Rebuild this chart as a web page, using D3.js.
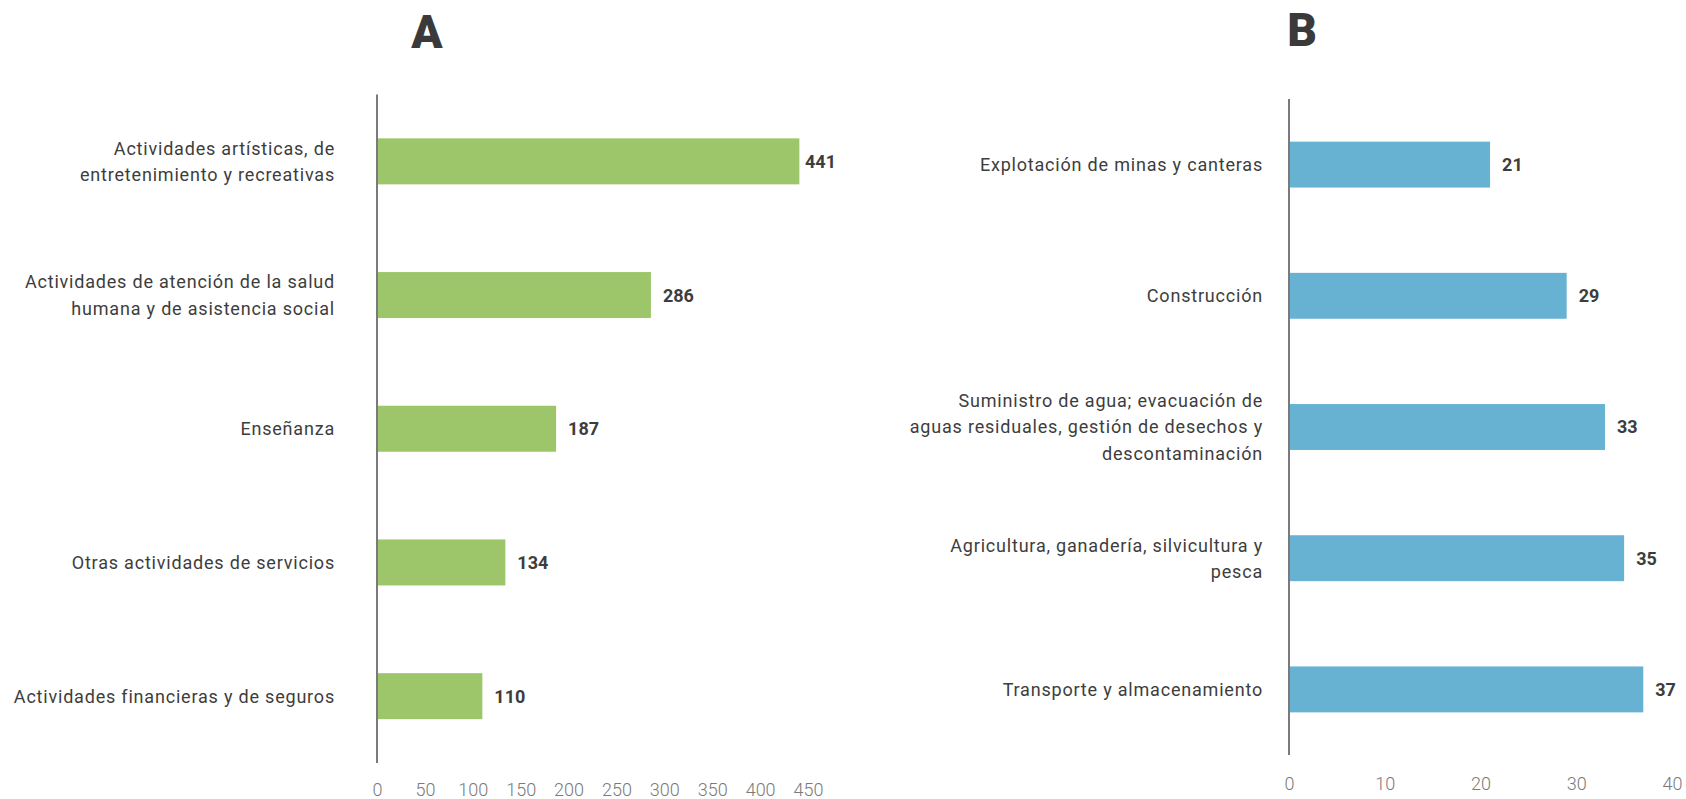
<!DOCTYPE html>
<html>
<head>
<meta charset="utf-8">
<script src="https://cdn.jsdelivr.net/npm/d3@7"></script>
<style>
  html, body { margin: 0; padding: 0; background: #ffffff; }
  svg { display: block; }
</style>
</head>
<body>
<svg id="chart" width="1686" height="799"></svg>
<script>
// ---- Data ----
const categoriesA = [
  "Actividades artísticas, de\nentretenimiento y recreativas",
  "Actividades de atención de la salud\nhumana y de asistencia social",
  "Enseñanza",
  "Otras actividades de servicios",
  "Actividades financieras y de seguros"
];
const valuesA = [441, 286, 187, 134, 110];
const ticksA = [0, 50, 100, 150, 200, 250, 300, 350, 400, 450];

const categoriesB = [
  "Explotación de minas y canteras",
  "Construcción",
  "Suministro de agua; evacuación de\naguas residuales, gestión de desechos y\ndescontaminación",
  "Agricultura, ganadería, silvicultura y\npesca",
  "Transporte y almacenamiento"
];
const valuesB = [21, 29, 33, 35, 37];
const ticksB = [0, 10, 20, 30, 40];

const titles = ["A", "B"];

// ---- Drawing ----
const svg = d3.select("#chart");
const FONT = "Roboto, 'Noto Sans', sans-serif";

function panel(cfg) {
  const g = svg.append("g");
  const x = d3.scaleLinear().domain(cfg.domain).range(cfg.xRange);
  const y = d3.scaleBand().domain(cfg.cats).range(cfg.yRange)
    .paddingInner(cfg.pad).paddingOuter(cfg.pad / 2);

  // title
  g.append("text")
    .attr("x", cfg.titleX).attr("y", cfg.titleY)
    .attr("text-anchor", "middle")
    .attr("font-family", FONT).attr("font-weight", 900)
    .attr("font-size", 46).attr("fill", "#3a3a3a")
    .text(cfg.title);

  // bars
  g.selectAll("rect.bar").data(cfg.vals).join("rect")
    .attr("class", "bar")
    .attr("x", x(0))
    .attr("y", (d, i) => y(cfg.cats[i]))
    .attr("width", d => x(d) - x(0))
    .attr("height", y.bandwidth())
    .attr("fill", cfg.color);

  // value labels (kept inside the panel's right edge)
  g.selectAll("text.val").data(cfg.vals).join("text")
    .attr("class", "val")
    .attr("y", (d, i) => y(cfg.cats[i]) + y.bandwidth() / 2)
    .attr("dy", "0.36em")
    .attr("font-family", FONT).attr("font-weight", 700)
    .attr("font-size", 18).attr("fill", "#3d3d3d")
    .text(d => d)
    .attr("x", function(d) {
      const w = this.getComputedTextLength();
      return Math.min(x(d) + 12, cfg.labelMaxX - w);
    });

  // category labels
  const lh = 26.2;
  cfg.cats.forEach(c => {
    const lines = c.split("\n");
    const cy = y(c) + y.bandwidth() / 2;
    const t = g.append("text")
      .attr("text-anchor", "end")
      .attr("font-family", FONT).attr("font-size", 18)
      .attr("letter-spacing", "0.8px")
      .attr("fill", "#3d3d3d");
    lines.forEach((ln, k) => {
      t.append("tspan")
        .attr("x", x(0) - cfg.labelGap)
        .attr("y", cy + (k - (lines.length - 1) / 2) * lh)
        .attr("dy", "0.36em")
        .text(ln);
    });
  });

  // vertical axis line
  g.append("line")
    .attr("x1", x(0)).attr("x2", x(0))
    .attr("y1", cfg.yRange[0]).attr("y2", cfg.yRange[1])
    .attr("stroke", "#7a7a7a").attr("stroke-width", 2);

  // bottom tick labels
  const ax = g.append("g")
    .attr("transform", `translate(0,${cfg.tickY})`)
    .call(d3.axisBottom(x).tickValues(cfg.ticks).tickSize(0).tickPadding(0));
  ax.select(".domain").remove();
  ax.selectAll("text")
    .attr("font-family", FONT).attr("font-weight", 300)
    .attr("font-size", 18).attr("fill", "#7a7a7a");
}

panel({
  title: titles[0], titleX: 427, titleY: 48,
  cats: categoriesA, vals: valuesA, ticks: ticksA,
  domain: [0, 450], xRange: [377, 808], yRange: [94.5, 763],
  pad: 0.656, color: "#9dc66b", labelGap: 42, tickY: 783, labelMaxX: 836
});

panel({
  title: titles[1], titleX: 1302, titleY: 46,
  cats: categoriesB, vals: valuesB, ticks: ticksB,
  domain: [0, 40], xRange: [1289, 1672], yRange: [99, 755],
  pad: 0.65, color: "#67b2d2", labelGap: 26, tickY: 777, labelMaxX: 1686
});
</script>
</body>
</html>
